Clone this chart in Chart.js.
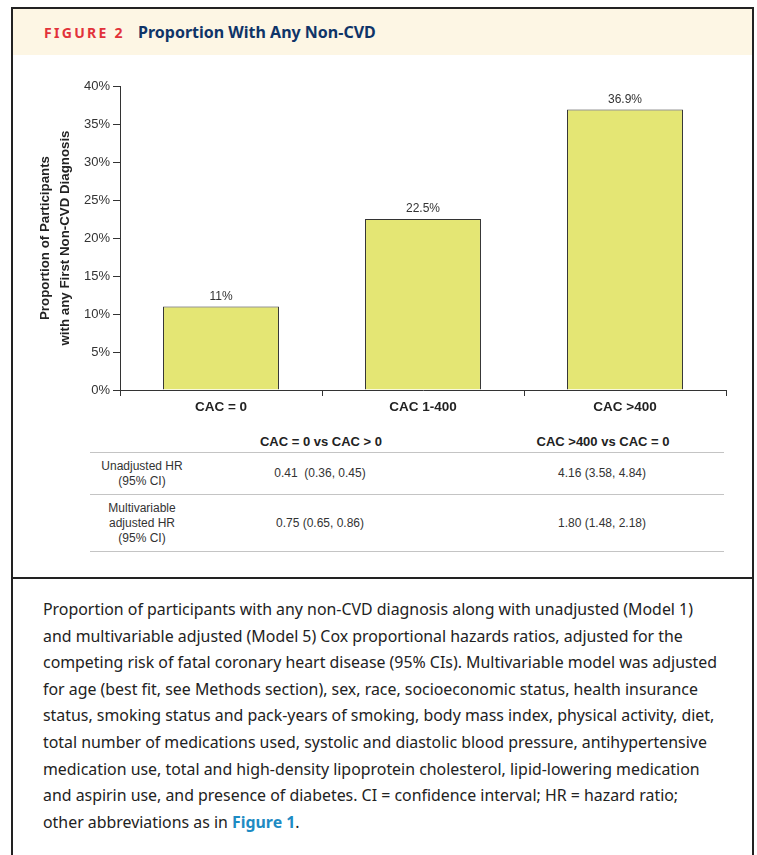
<!DOCTYPE html>
<html>
<head>
<meta charset="utf-8">
<script src="https://cdn.jsdelivr.net/npm/chart.js@4/dist/chart.umd.min.js"></script>
<style>
  body { margin: 0; background: #fff; width: 757px; height: 855px; overflow: hidden; position: relative; }
  #frame { position: absolute; left: 11px; top: 7px; width: 739px; height: 900px; border: 2px solid #222; box-sizing: content-box; }
  #head { position: absolute; left: 13px; top: 9px; width: 739px; height: 46px; background: #fdf6e4; }
  #fig { position: absolute; left: 44px; top: 23px; font: bold 14px "Noto Sans", sans-serif; letter-spacing: 2.3px; color: #e2323a; }
  #ttl { position: absolute; left: 138px; top: 21px; font: bold 16px "Noto Sans", sans-serif; color: #0f3468; }
  #wrap { position: absolute; left: 0; top: 0; width: 757px; height: 430px; }
  .t { position: absolute; font: 12px "Liberation Sans", Arial, sans-serif; color: #333; text-align: center; line-height: 15px; white-space: nowrap; transform: translateX(-50%); }
  .th { font: bold 13px "Liberation Sans", Arial, sans-serif; color: #222; }
  .rule { position: absolute; left: 90px; width: 634px; height: 1px; background: #c4c4c4; }
  #sep { position: absolute; left: 13px; top: 577px; width: 739px; height: 2px; background: #222; }
  #cap { position: absolute; left: 43px; top: 596px; font: 15.9px "Noto Sans", sans-serif; line-height: 26.6px; color: #222; white-space: nowrap; }
  #cap b { color: #1e8bc3; }
</style>
</head>
<body>
<div id="head"></div>
<div id="frame"></div>
<div id="fig">FIGURE 2</div>
<div id="ttl">Proportion With Any Non-CVD</div>
<div id="wrap"><canvas id="chart" width="757" height="430"></canvas></div>

<div class="t th" style="left:321px;top:434px;">CAC = 0 vs CAC &gt; 0</div>
<div class="t th" style="left:603px;top:434px;">CAC &gt;400 vs CAC = 0</div>
<div class="rule" style="top:452px;"></div>
<div class="t" style="left:142px;top:459px;">Unadjusted HR<br>(95% CI)</div>
<div class="t" style="left:320px;top:466px;">0.41&nbsp; (0.36, 0.45)</div>
<div class="t" style="left:602px;top:466px;">4.16 (3.58, 4.84)</div>
<div class="rule" style="top:494px;"></div>
<div class="t" style="left:142px;top:501px;">Multivariable<br>adjusted HR<br>(95% CI)</div>
<div class="t" style="left:320px;top:516px;">0.75 (0.65, 0.86)</div>
<div class="t" style="left:602px;top:516px;">1.80 (1.48, 2.18)</div>
<div class="rule" style="top:551px;"></div>
<div id="sep"></div>

<div id="cap">Proportion of participants with any non-CVD diagnosis along with unadjusted (Model 1)<br>and multivariable adjusted (Model 5) Cox proportional hazards ratios, adjusted for the<br>competing risk of fatal coronary heart disease (95% CIs). Multivariable model was adjusted<br>for age (best fit, see Methods section), sex, race, socioeconomic status, health insurance<br>status, smoking status and pack-years of smoking, body mass index, physical activity, diet,<br>total number of medications used, systolic and diastolic blood pressure, antihypertensive<br>medication use, total and high-density lipoprotein cholesterol, lipid-lowering medication<br>and aspirin use, and presence of diabetes. CI = confidence interval; HR = hazard ratio;<br>other abbreviations as in <b>Figure 1</b>.</div>

<script>
// values
const categories = ["CAC = 0", "CAC 1-400", "CAC >400"];
const proportions = [11, 22.5, 36.9];
const valueLabels = ["11%", "22.5%", "36.9%"];
const yTicks = [0, 5, 10, 15, 20, 25, 30, 35, 40];
const yTitle = ["Proportion of Participants", "with any First Non-CVD Diagnosis"];

const barLabels = {
  id: "barLabels",
  afterDatasetsDraw(chart) {
    const ctx = chart.ctx;
    const meta = chart.getDatasetMeta(0);
    ctx.save();
    ctx.font = "12px 'Liberation Sans', Arial, sans-serif";
    ctx.fillStyle = "#333";
    ctx.textAlign = "center";
    ctx.textBaseline = "bottom";
    meta.data.forEach(function (bar, i) {
      ctx.fillText(valueLabels[i], bar.x, bar.y - 4);
    });
    ctx.restore();
  }
};

new Chart(document.getElementById("chart"), {
  type: "bar",
  data: {
    labels: categories,
    datasets: [{
      data: proportions,
      backgroundColor: "#e4e674",
      borderColor: "#333",
      borderWidth: 1,
      categoryPercentage: 1,
      barPercentage: 0.574
    }]
  },
  options: {
    responsive: false,
    animation: false,
    layout: { padding: { left: 0, top: 86, right: 31, bottom: 0 } },
    plugins: { legend: { display: false }, tooltip: { enabled: false } },
    scales: {
      x: {
        afterFit: function (s) { s.height = 40; },
        grid: { offset: true, drawOnChartArea: false, drawTicks: true, tickLength: 6, color: "#333" },
        border: { display: true, color: "#333", width: 1 },
        ticks: { color: "#222", padding: 3, font: { family: "'Liberation Sans', Arial, sans-serif", size: 13.5, weight: "bold" } }
      },
      y: {
        min: 0,
        max: 40,
        afterFit: function (s) { s.width = 120; },
        afterBuildTicks: function (s) { s.ticks = yTicks.map(function (v) { return { value: v }; }); },
        grid: { drawOnChartArea: false, drawTicks: true, tickLength: 7, color: "#333" },
        border: { display: true, color: "#333", width: 1 },
        ticks: {
          color: "#333",
          padding: 3,
          font: { family: "'Liberation Sans', Arial, sans-serif", size: 13 },
          callback: function (v) { return v + "%"; }
        },
        title: {
          display: true,
          text: yTitle,
          color: "#222",
          padding: { top: 35, bottom: 0 },
          font: { family: "'Liberation Sans', Arial, sans-serif", size: 13.3, weight: "bold", lineHeight: "20px" }
        }
      }
    }
  },
  plugins: [barLabels]
});
</script>
</body>
</html>
